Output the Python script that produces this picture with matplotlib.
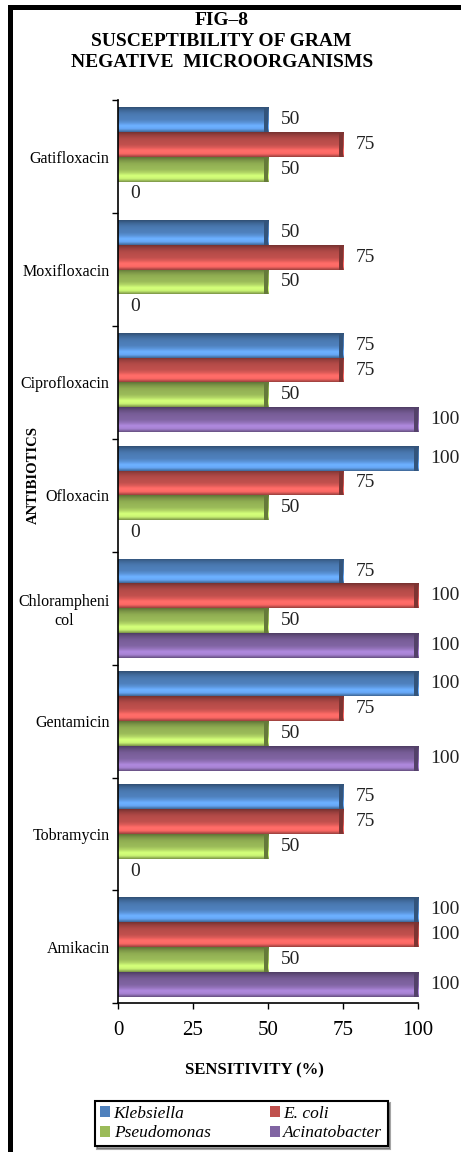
import numpy as np
import matplotlib.pyplot as plt
from matplotlib.patches import Rectangle, Patch
from matplotlib.colors import to_rgb

plt.rcParams['font.family'] = ['Liberation Serif', 'DejaVu Serif']

# antibiotics listed bottom to top (barh puts index 0 at the bottom)
antibiotics = ['Amikacin', 'Tobramycin', 'Gentamicin', 'Chlorampheni\ncol',
               'Ofloxacin', 'Ciprofloxacin', 'Moxifloxacin', 'Gatifloxacin']
organisms = ['Klebsiella', 'E. coli', 'Pseudomonas', 'Acinatobacter']
klebsiella = [100, 75, 100, 75, 100, 75, 50, 50]
e_coli = [100, 75, 75, 100, 75, 75, 75, 75]
pseudomonas = [50, 50, 50, 50, 50, 50, 50, 50]
acinetobacter = [100, 0, 100, 100, 0, 100, 0, 0]
series = [klebsiella, e_coli, pseudomonas, acinetobacter]
colors = ['#4F81BD', '#C0504D', '#9BBB59', '#8064A2']

fig = plt.figure(figsize=(4.61, 11.52), dpi=100)
ax = fig.add_axes([0.256, 0.129, 0.651, 0.784])

# bevel-like shading profile, top of bar -> bottom of bar
shade = np.array([0.80, 1.30, 1.38, 1.15, 1.0, 0.97, 0.92, 0.80, 0.62])

def shade_bar(patch, color):
    x0, y0 = patch.get_x(), patch.get_y()
    w, h = patch.get_width(), patch.get_height()
    if w <= 0:
        return
    base = np.array(to_rgb(color))
    t = np.linspace(0, 1, 60)
    prof = np.interp(t, np.linspace(0, 1, len(shade)), shade)
    rows = np.clip(base[None, :] * prof[:, None], 0, 1)
    img = np.repeat(rows[:, None, :], 2, axis=1)
    im = ax.imshow(img, extent=(x0, x0 + w, y0 + h, y0), aspect='auto',
                   origin='upper', zorder=2, interpolation='bilinear')
    im.set_clip_path(patch)
    # darker bevelled end of the bar
    ax.add_patch(Rectangle((x0 + w - 1.4, y0), 1.4, h, color=base * 0.65,
                           zorder=3, lw=0))

y = np.arange(len(antibiotics))
h = 0.22
offsets = [1.5 * h, 0.5 * h, -0.5 * h, -1.5 * h]
for vals, col, off, name in zip(series, colors, offsets, organisms):
    bars = ax.barh(y + off, vals, height=h, color=col, label=name,
                   edgecolor='none', zorder=1)
    for p in bars:
        shade_bar(p, col)
    ax.bar_label(bars, padding=9, fontsize=14, color='#222222')

ax.set_xlim(0, 100)
ax.set_ylim(-0.5, len(antibiotics) - 0.5)
ax.set_xticks([0, 25, 50, 75, 100])
ax.tick_params(axis='x', labelsize=15, length=4, width=1, pad=9)
ax.set_yticks(np.arange(-0.5, len(antibiotics)), labels=[])
ax.set_yticks(y, labels=antibiotics, minor=True)
ax.tick_params(axis='y', which='major', length=4, width=1)
ax.tick_params(axis='y', which='minor', length=0, labelsize=11.5, pad=6)
for lab in ax.get_yticklabels(minor=True):
    lab.set_multialignment('center')
for s in ['top', 'right']:
    ax.spines[s].set_visible(False)
for s in ['left', 'bottom']:
    ax.spines[s].set_linewidth(1.2)

fig.text(0.481, 1 - 12 / 1152,
         'FIG–8\nSUSCEPTIBILITY OF GRAM\nNEGATIVE  MICROORGANISMS',
         ha='center', va='top', fontsize=14, fontweight='bold',
         linespacing=1.3)
fig.text(0.072, 0.588, 'ANTIBIOTICS', rotation=90, ha='center', va='center',
         fontsize=10.5, fontweight='bold')
fig.text(0.553, 0.071, 'SENSITIVITY (%)', ha='center', va='center',
         fontsize=12, fontweight='bold')

# legend fills column by column, so order handles to read row-wise
handles = [Patch(facecolor=c, label=n) for c, n in zip(colors, organisms)]
handles = [handles[0], handles[2], handles[1], handles[3]]
leg = fig.legend(handles=handles, ncol=2, loc='center',
                 bbox_to_anchor=(0.523, 0.0247), frameon=True, fancybox=False,
                 shadow=True, edgecolor='black', handlelength=0.6,
                 handleheight=0.6, handletextpad=0.2, columnspacing=3.4,
                 labelspacing=0.2, borderpad=0.3, borderaxespad=0,
                 prop={'style': 'italic', 'size': 12.5})
leg.get_frame().set_linewidth(1.5)

# heavy frame lines along the top and left edge
fig.add_artist(Rectangle((8 / 461, 1 - 10 / 1152), 1, 5 / 1152,
                         transform=fig.transFigure, color='black', lw=0))
fig.add_artist(Rectangle((8 / 461, 0), 5 / 461, 1 - 5 / 1152,
                         transform=fig.transFigure, color='black', lw=0))

fig.savefig('out.png', dpi=100)
